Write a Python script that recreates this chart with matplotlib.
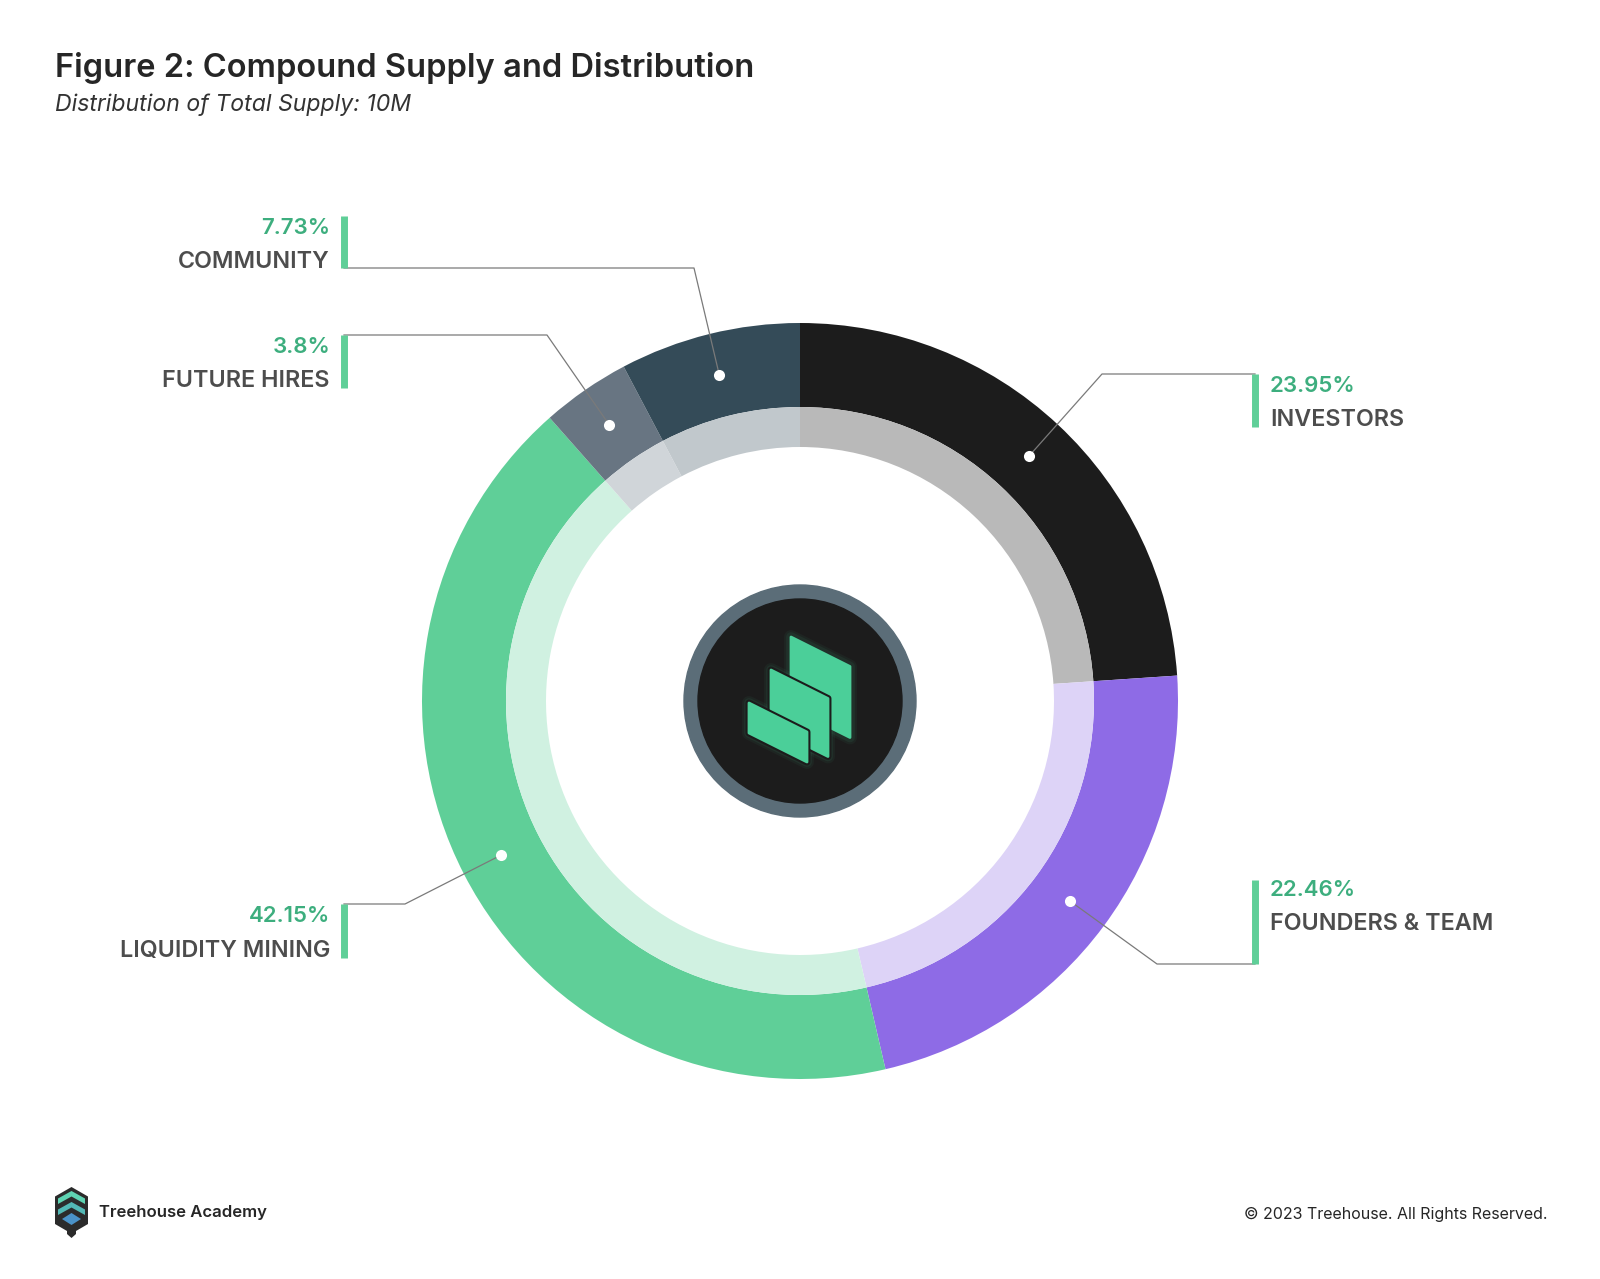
import numpy as np
import matplotlib.pyplot as plt
from matplotlib.patches import Circle, Polygon

W, H = 1600, 1279

labels = ['INVESTORS', 'FOUNDERS & TEAM', 'LIQUIDITY MINING', 'FUTURE HIRES', 'COMMUNITY']
shares = [23.95, 22.46, 42.15, 3.8, 7.73]
pct_text = ['23.95%', '22.46%', '42.15%', '3.8%', '7.73%']
outer_colors = ['#1c1c1c', '#8e6be6', '#5fcf98', '#687582', '#344b58']
inner_colors = ['#b9b9b9', '#ddd3f7', '#d0f1e1', '#d0d5d9', '#c1c8cc']

# label layout in pixels from the top: side, elbow, bar x, bar top/bottom, line y, pct y, name y
layout = [
    ('right', 1102, 1255, 374, 427, 374, 386, 420),
    ('right', 1157, 1255, 880, 964, 964, 890, 924),
    ('left', 405, 344, 904, 958, 904, 916, 951),
    ('left', 547, 344, 335, 388, 335, 347, 381),
    ('left', 694, 344, 216, 268, 268, 228, 262),
]

FONT = ['Inter', 'DejaVu Sans']
plt.rcParams['font.family'] = FONT


def Y(y):
    return H - y


fig = plt.figure(figsize=(W / 100, H / 100), dpi=100)
ax = fig.add_axes([0, 0, 1, 1])

cx, cy = 800, Y(701)
r_out, r_mid, r_in = 378, 294, 254
wedges, _ = ax.pie(shares, radius=r_out, center=(cx, cy), startangle=90,
                   counterclock=False, colors=outer_colors,
                   wedgeprops=dict(width=r_out - r_mid, linewidth=0))
ax.pie(shares, radius=r_mid, center=(cx, cy), startangle=90,
       counterclock=False, colors=inner_colors,
       wedgeprops=dict(width=r_mid - r_in, linewidth=0))

ax.set_xlim(0, W)
ax.set_ylim(0, H)
ax.set_aspect('equal')
ax.axis('off')

# leader lines, dots, bars and labels
r_dot = (r_out + r_mid) / 2
for w, lab, pct, lay in zip(wedges, labels, pct_text, layout):
    side, ex, bx, b0, b1, ly, py, ny = lay
    th = np.deg2rad((w.theta1 + w.theta2) / 2)
    dx = cx + r_dot * np.cos(th)
    dy = cy + r_dot * np.sin(th)
    ax.plot([dx, ex, bx], [dy, Y(ly), Y(ly)], color='#7a7a7a', lw=0.9, zorder=3)
    ax.plot(dx, dy, 'o', color='white', ms=8, mec='none', zorder=4)
    ax.plot([bx, bx], [Y(b0), Y(b1)], color='#5fcf98', lw=5, solid_capstyle='butt', zorder=4)
    if side == 'right':
        tx, ha = bx + 15, 'left'
    else:
        tx, ha = bx - 14, 'right'
    ax.text(tx, Y(py), pct, ha=ha, va='center', fontsize=16, fontweight='semibold',
            color='#3dae7e')
    ax.text(tx, Y(ny), lab, ha=ha, va='center', fontsize=16.8, fontweight='semibold',
            color='#4d4d4d')

# center logo
ax.add_patch(Circle((cx, cy), 116, color='#5b6d78', zorder=5))
ax.add_patch(Circle((cx, cy), 102, color='#1c1c1c', zorder=6))


def piece(x0, y0, w, h):
    return [(x0, Y(y0)), (x0 + w, Y(y0 + w * 0.5)),
            (x0 + w, Y(y0 + w * 0.5 + h)), (x0, Y(y0 + h))]


pieces = [piece(791, 637, 59, 71), piece(771, 670, 57, 58), piece(749, 703, 58, 30)]
for p in pieces:
    for lw, a in [(10, 0.05), (7, 0.07)]:
        ax.add_patch(Polygon(p, closed=True, fc='none', ec='#4bd09b', lw=lw, alpha=a,
                             joinstyle='round', zorder=7))
for i, p in enumerate(pieces):
    if i > 0:
        ax.add_patch(Polygon(p, closed=True, fc='#1c1c1c', ec='#1c1c1c', lw=5,
                             joinstyle='round', zorder=8 + i))
    ax.add_patch(Polygon(p, closed=True, fc='#4bcf99', ec='#4bcf99', lw=2,
                         joinstyle='round', zorder=8 + i))

# title
ax.text(55, Y(68), 'Figure 2: Compound Supply and Distribution', ha='left', va='center',
        fontsize=23.5, fontweight='semibold', color='#262626')
ax.text(55, Y(105), 'Distribution of Total Supply: 10M', ha='left', va='center',
        fontsize=16.6, fontstyle='italic', color='#333333')

# footer logo
hexv = [(71.5, 1187), (88, 1196.5), (88, 1224), (76, 1231), (76, 1234), (71.5, 1238),
        (67, 1234), (67, 1231), (55, 1224), (55, 1196.5)]
ax.add_patch(Polygon([(x, Y(y)) for x, y in hexv], closed=True, fc='#2b2b2b', ec='none'))
chev_colors = ['#5ed3b2', '#52b8b5', '#4a92c8']
for k, c in enumerate(chev_colors):
    t = 1191 + k * 11
    v = [(71.5, t), (85, t + 7.5), (85, t + 13), (71.5, t + 5.5), (58, t + 13), (58, t + 7.5)]
    if k == 2:
        v = [(71.5, t), (81, t + 6), (71.5, t + 12), (62, t + 6)]
    ax.add_patch(Polygon([(x, Y(y)) for x, y in v], closed=True, fc=c, ec='none'))

ax.text(99, Y(1213), 'Treehouse Academy', ha='left', va='center', fontsize=12,
        fontweight='semibold', color='#262626')
ax.text(1547, Y(1214), '© 2023 Treehouse. All Rights Reserved.', ha='right', va='center',
        fontsize=11.5, color='#262626')

fig.savefig('out.png', dpi=100)
